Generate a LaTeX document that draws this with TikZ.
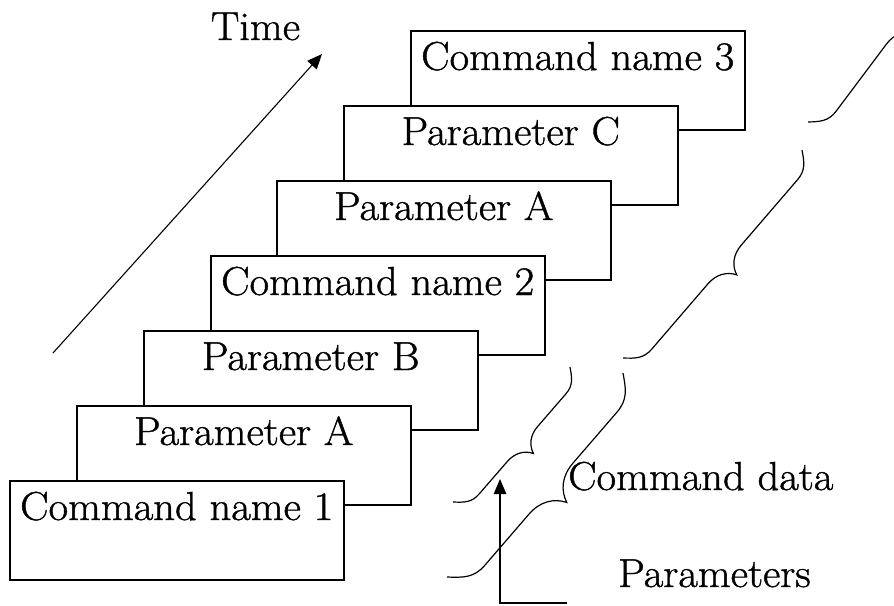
\documentclass[tikz,border=0pt]{standalone}
\usepackage{fontspec}
\setmainfont{Latin Modern Roman}[FakeBold=1.0,FakeStretch=1.05]
\usetikzlibrary{arrows.meta,decorations.pathreplacing}
% a curly brace with shorter curls than the stock one
\pgfdeclaredecoration{slimbrace}{brace}
{%
  \state{brace}[width=+\pgfdecoratedremainingdistance,next state=final]
  {%
    \pgfpathmoveto{\pgfpointorigin}%
    \pgfpathcurveto
      {\pgfqpoint{.24\pgfdecorationsegmentamplitude}{.3\pgfdecorationsegmentamplitude}}%
      {\pgfqpoint{.4\pgfdecorationsegmentamplitude}{.5\pgfdecorationsegmentamplitude}}%
      {\pgfqpoint{.8\pgfdecorationsegmentamplitude}{.5\pgfdecorationsegmentamplitude}}%
    {%
      \pgftransformxshift{+\pgfdecorationsegmentaspect\pgfdecoratedremainingdistance}%
      \pgfpathlineto{\pgfqpoint{-.8\pgfdecorationsegmentamplitude}{.5\pgfdecorationsegmentamplitude}}%
      \pgfpathcurveto
        {\pgfqpoint{-.4\pgfdecorationsegmentamplitude}{.5\pgfdecorationsegmentamplitude}}%
        {\pgfqpoint{-.12\pgfdecorationsegmentamplitude}{.7\pgfdecorationsegmentamplitude}}%
        {\pgfqpoint{0pt}{\pgfdecorationsegmentamplitude}}%
      \pgfpathcurveto
        {\pgfqpoint{.12\pgfdecorationsegmentamplitude}{.7\pgfdecorationsegmentamplitude}}%
        {\pgfqpoint{.4\pgfdecorationsegmentamplitude}{.5\pgfdecorationsegmentamplitude}}%
        {\pgfqpoint{.8\pgfdecorationsegmentamplitude}{.5\pgfdecorationsegmentamplitude}}%
    }%
    {%
      \pgftransformxshift{+\pgfdecoratedremainingdistance}%
      \pgfpathlineto{\pgfqpoint{-.8\pgfdecorationsegmentamplitude}{.5\pgfdecorationsegmentamplitude}}%
      \pgfpathcurveto
        {\pgfqpoint{-.4\pgfdecorationsegmentamplitude}{.5\pgfdecorationsegmentamplitude}}%
        {\pgfqpoint{-.24\pgfdecorationsegmentamplitude}{.3\pgfdecorationsegmentamplitude}}%
        {\pgfpointorigin}%
    }%
  }%
  \state{final}{}%
}
\begin{document}
\begin{tikzpicture}[x=1pt,y=-1pt,
  cmdbox/.style={draw,fill=white,line width=1.5pt,minimum width=334pt,
    minimum height=99pt,anchor=north west,inner sep=0pt},
  lbl/.style={font=\fontsize{40.5}{48}\selectfont,anchor=base,inner sep=0pt},
  curly/.style={decorate,decoration={slimbrace,mirror,amplitude=#1},line width=1.2pt},
  arr/.style={-{Triangle[length=15pt,width=12.5pt]},line width=1.1pt}]
\useasboundingbox (0,0) rectangle (894,605);
\clip (0,0) rectangle (894,605);

% stacked frames, drawn from the last one (back) to the first one (front)
\node[cmdbox] (b6) at (410,30) {};
\node[lbl] (l6) at ([yshift=-40pt]b6.north) {Command name 3};
\node[cmdbox] (b5) at (343,105) {};
\node[lbl] (l5) at ([yshift=-40pt]b5.north) {Parameter C};
\node[cmdbox] (b4) at (276,180) {};
\node[lbl] (l4) at ([yshift=-40pt]b4.north) {Parameter A};
\node[cmdbox] (b3) at (210,255) {};
\node[lbl] (l3) at ([yshift=-40pt]b3.north) {Command name 2};
\node[cmdbox] (b2) at (143,330) {};
\node[lbl] (l2) at ([yshift=-40pt]b2.north) {Parameter B};
\node[cmdbox] (b1) at (76,405) {};
\node[lbl] (l1) at ([yshift=-40pt]b1.north) {Parameter A};
\node[cmdbox] (b0) at (9,480) {};
\node[lbl] (l0) at ([yshift=-40pt]b0.north) {Command name 1};

% time axis
\coordinate (t0) at (53,353);
\coordinate (t1) at (322,54);
\draw[arr] (t0) -- (t1);
\node[lbl] (time) at (255.5,40) {Time};

% braces
\coordinate (a0) at (453,502); \coordinate (a1) at (570,367);
\coordinate (c0) at (447,577); \coordinate (c1) at (623,373);
\coordinate (d0) at (623,358); \coordinate (d1) at (802,150);
\coordinate (e0) at (808,122); \coordinate (e1) at (970,-94);
\draw[curly=29pt] (a0) -- (a1);
\draw[curly=42pt] (c0) -- (c1);
\draw[curly=32pt] (d0) -- (d1);
\draw[curly=32pt] (e0) -- (e1);

\node[lbl,anchor=base west] (cdata) at (568,490) {Command data};

% parameter pointer
\coordinate (p0) at (567,603);
\coordinate (p1) at (500,479);
\draw[arr] (p0) -| (p1);
\node[lbl,anchor=base west] (params) at (618,587) {Parameters};
\end{tikzpicture}
\end{document}
